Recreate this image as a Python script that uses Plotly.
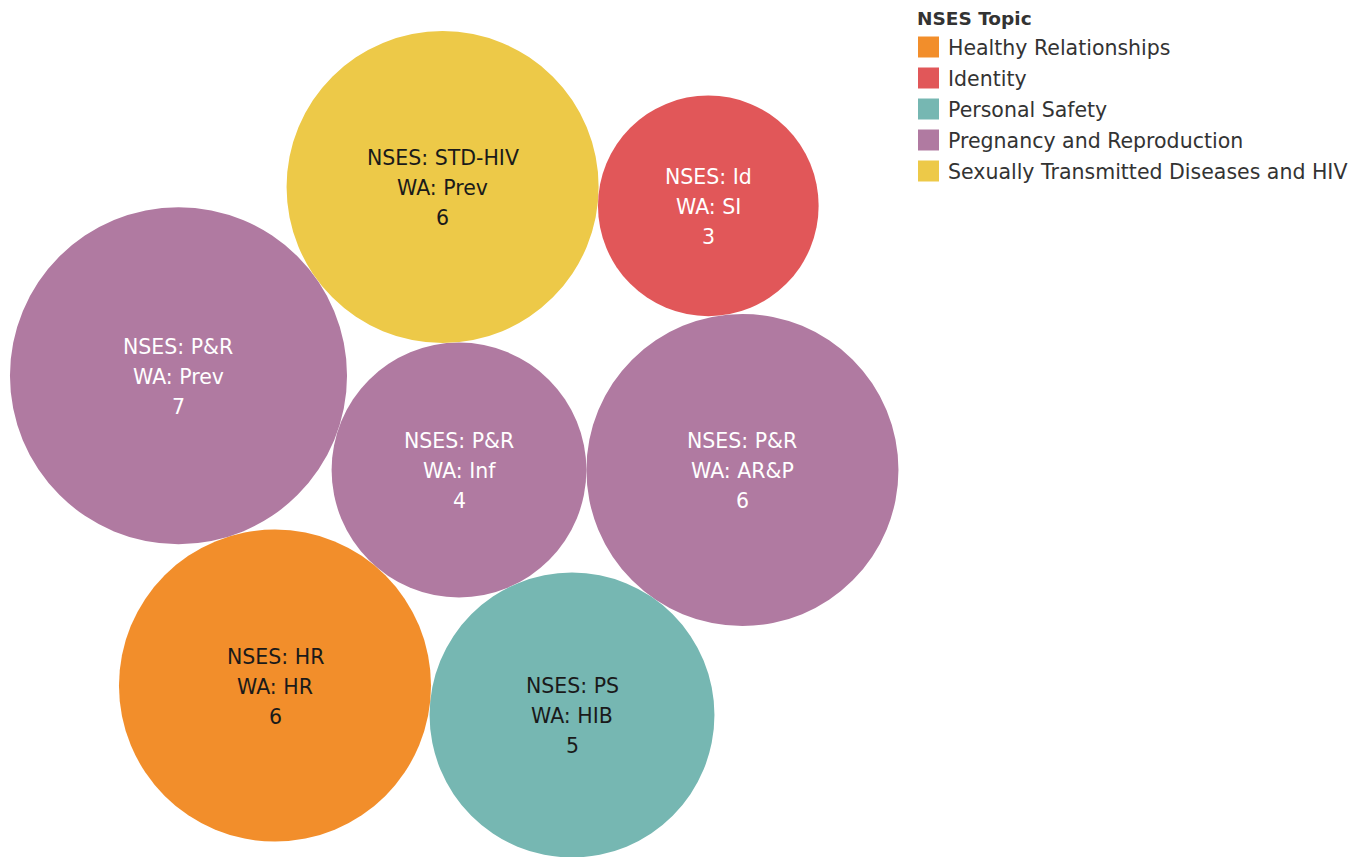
import math
import plotly.graph_objects as go

# ---- data (packing order: centre bubble first, then the ring clockwise, then the outer bubble)
nses_codes = ["P&R", "P&R", "PS", "HR", "P&R", "STD-HIV", "Id"]
wa_codes = ["Inf", "AR&P", "HIB", "HR", "Prev", "Prev", "SI"]
topics = [
    "Pregnancy and Reproduction",
    "Pregnancy and Reproduction",
    "Personal Safety",
    "Healthy Relationships",
    "Pregnancy and Reproduction",
    "Sexually Transmitted Diseases and HIV",
    "Identity",
]
counts = [4, 6, 5, 6, 7, 6, 3]

legend_topics = [
    "Healthy Relationships",
    "Identity",
    "Personal Safety",
    "Pregnancy and Reproduction",
    "Sexually Transmitted Diseases and HIV",
]

# ---- styles
topic_colors = {
    "Healthy Relationships": "#F28E2B",
    "Identity": "#E15759",
    "Personal Safety": "#76B7B2",
    "Pregnancy and Reproduction": "#B07AA1",
    "Sexually Transmitted Diseases and HIV": "#EDC948",
}
topic_text = {
    "Healthy Relationships": "#1a1a1a",
    "Identity": "#ffffff",
    "Personal Safety": "#1a1a1a",
    "Pregnancy and Reproduction": "#ffffff",
    "Sexually Transmitted Diseases and HIV": "#1a1a1a",
}
FONT = "DejaVu Sans"
W, H = 1364, 857
K = 63.7            # pixels per data unit
CX_PX, CY_PX = 459, 470   # where the packing centre sits on the page

# ---- packed-bubble layout (area proportional to count)
radii = [math.sqrt(c) for c in counts]


def tangent(a, ra, b, rb, r, clockwise=True):
    da, db = ra + r, rb + r
    dx, dy = b[0] - a[0], b[1] - a[1]
    d = math.hypot(dx, dy)
    along = (da * da - db * db + d * d) / (2 * d)
    h = math.sqrt(max(da * da - along * along, 0))
    px, py = a[0] + along * dx / d, a[1] + along * dy / d
    nx, ny = -dy / d, dx / d
    s = -1 if clockwise else 1
    return (px + s * h * nx, py + s * h * ny)


centers = [(0.0, 0.0), (radii[0] + radii[1], 0.0)]
for i in range(2, 6):
    centers.append(tangent(centers[0], radii[0], centers[i - 1], radii[i - 1], radii[i], True))
# outer bubble between the last ring bubble and the first ring bubble
cand = [tangent(centers[5], radii[5], centers[1], radii[1], radii[6], cw) for cw in (True, False)]
centers.append(max(cand, key=lambda p: math.hypot(*p)))

fig = go.Figure()
shapes = []
annotations = []
for (cx, cy), r, t in zip(centers, radii, topics):
    shapes.append(dict(type="circle", xref="x", yref="y",
                       x0=cx - r, x1=cx + r, y0=cy - r, y1=cy + r,
                       fillcolor=topic_colors[t], line=dict(width=0), layer="below"))

for (cx, cy), n, w, c, t in zip(centers, nses_codes, wa_codes, counts, topics):
    for txt, shift in ((f"NSES: {n}", 30), (f"WA: {w}", 0), (str(c), -30)):
        annotations.append(dict(x=cx, y=cy, xref="x", yref="y", text=txt, showarrow=False,
                                yshift=shift - 1, xanchor="center", yanchor="middle",
                                font=dict(family=FONT, size=20.5, color=topic_text[t])))

# hidden trace so the axes exist
fig.add_trace(go.Scatter(x=[c[0] for c in centers], y=[c[1] for c in centers],
                         mode="markers", marker=dict(size=1, opacity=0),
                         hoverinfo="skip", showlegend=False))

# ---- legend (drawn from the topic list)
LX, LY0, STEP = 918, 47, 31
annotations.append(dict(x=(LX - 3) / W, y=1 - 18 / H, xref="paper", yref="paper",
                        text="<b>NSES Topic</b>", showarrow=False, xanchor="left", yanchor="middle",
                        font=dict(family=FONT, size=18.5, color="#333333")))
for i, t in enumerate(legend_topics):
    yc = LY0 + STEP * i
    shapes.append(dict(type="rect", xref="paper", yref="paper",
                       x0=LX / W, x1=(LX + 21) / W, y0=1 - (yc + 10.5) / H, y1=1 - (yc - 10.5) / H,
                       fillcolor=topic_colors[t], line=dict(width=0)))
    annotations.append(dict(x=(LX + 28) / W, y=1 - (yc + 1) / H, xref="paper", yref="paper",
                            text=t, showarrow=False, xanchor="left", yanchor="middle",
                            font=dict(family=FONT, size=20.5, color="#333333")))

fig.update_layout(
    width=W, height=H,
    margin=dict(l=0, r=0, t=0, b=0),
    paper_bgcolor="white", plot_bgcolor="white",
    showlegend=False,
    shapes=shapes, annotations=annotations,
    xaxis=dict(range=[-CX_PX / K, (W - CX_PX) / K], visible=False, fixedrange=True),
    yaxis=dict(range=[-(H - CY_PX) / K, CY_PX / K], visible=False, fixedrange=True),
)
fig.write_html("out.html")
